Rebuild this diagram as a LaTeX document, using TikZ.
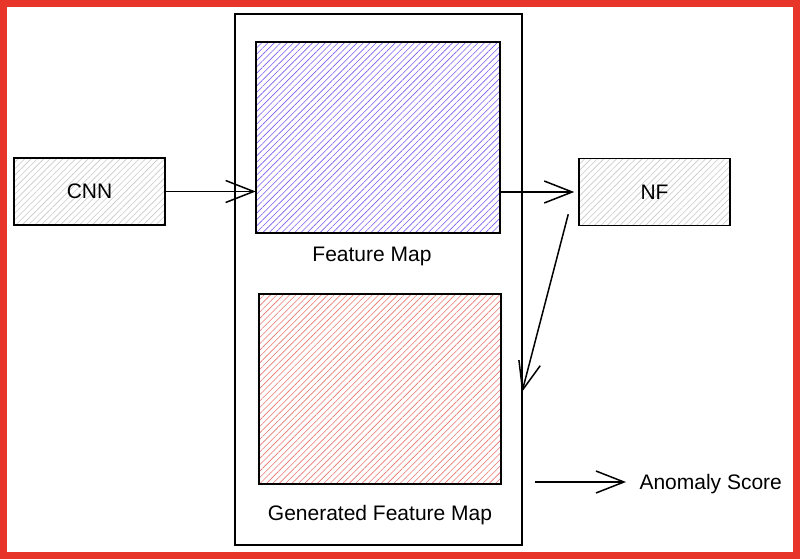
\documentclass[tikz,border=0pt]{standalone}
\usepackage{fontspec}
\setmainfont{Liberation Sans}
\usetikzlibrary{arrows.meta,patterns.meta}

\definecolor{frame red}{HTML}{E8352A}
\definecolor{map violet}{HTML}{7A5CF0}
\definecolor{map red}{HTML}{E8756E}
\definecolor{box gray}{HTML}{C8C8C8}

\begin{document}
\begin{tikzpicture}[x=1pt,y=-1pt,
        every node/.style={font=\fontsize{21}{24}\selectfont},
        block/.style={draw,line width=1.5pt,minimum width=151pt,minimum height=67pt,
          pattern={Lines[angle=45,distance=4.5pt,line width=0.6pt]},pattern color=box gray},
        map/.style={draw,line width=1.5pt,inner sep=0pt},
        holder/.style={draw,line width=1.5pt,minimum width=287pt,minimum height=531pt},
        flow/.style={line width=1.5pt,-{Straight Barb[length=28pt,width=22pt,line width=1.5pt]}}]

  \useasboundingbox (0,0) rectangle (800,559);
  \draw[frame red,line width=7pt] (3.5,3.5) rectangle (796.5,555.5);

  \node[holder] (holder) at (378.5,279.5) {};
  \node[map,minimum width=244pt,minimum height=191pt,
        pattern={Lines[angle=45,distance=4.5pt,line width=0.6pt]},pattern color=map violet]
        (fmap) at (378,137.5) {};
  \node[map,minimum width=242pt,minimum height=190pt,
        pattern={Lines[angle=45,distance=4.5pt,line width=0.6pt]},pattern color=map red]
        (gmap) at (380,389) {};
  \node (fmaplabel) at (372,256) {Feature Map};
  \node (gmaplabel) at (380,515) {Generated Feature Map};

  \node[block] (cnn) at (89.5,191.5) {CNN};
  \node[block] (nf) at (654.5,192) {NF};
  \node[anchor=west] (score) at (636,484) {Anomaly Score};

  \coordinate (back) at (522,392);
  \coordinate (out) at (535,482);

  \draw[flow] (cnn.east) -- (cnn.east -| fmap.west);
  \draw[flow,shorten >=4pt] (fmap.east |- nf.west) -- (nf.west);
  \draw[flow] ([xshift=-10pt,yshift=12pt]nf.south west) -- (back);
  \draw[flow,shorten >=10pt] (out) -- (out -| score.west);
\end{tikzpicture}
\end{document}
